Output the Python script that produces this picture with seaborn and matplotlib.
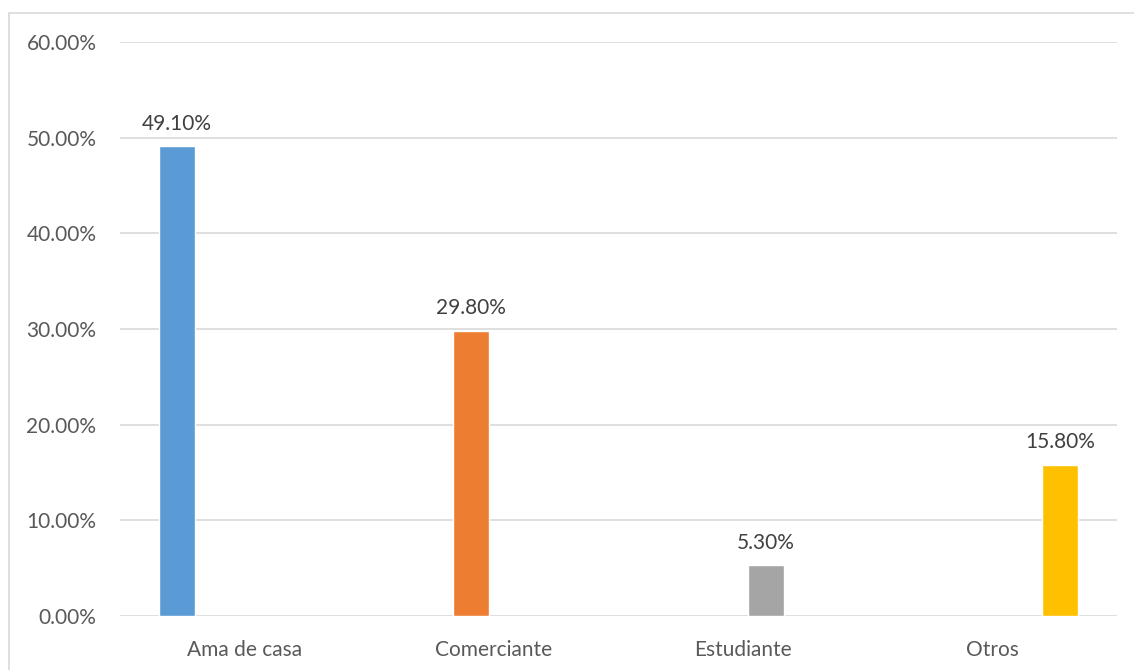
import matplotlib
matplotlib.use("Agg")
import matplotlib.pyplot as plt
from matplotlib.lines import Line2D
from matplotlib.ticker import FuncFormatter, MultipleLocator
import seaborn as sns
import pandas as pd

# Occupation shares (percent)
categories = ["Ama de casa", "Comerciante", "Estudiante", "Otros"]
values = [49.10, 29.80, 5.30, 15.80]
colors = ["#5B9BD5", "#ED7D31", "#A5A5A5", "#FFC000"]

df = pd.DataFrame({"ocupacion": categories, "porcentaje": values})

sns.set_theme(style="white")
plt.rcParams["font.family"] = ["Lato", "DejaVu Sans"]

W, H = 1134, 670
fig = plt.figure(figsize=(W / 100, H / 100), dpi=100)
ax = fig.add_axes([120 / W, (H - 616) / H, (1117 - 120) / W, (616 - 42) / H])

sns.barplot(
    data=df, x="ocupacion", y="porcentaje", hue="ocupacion",
    order=categories, hue_order=categories, palette=colors,
    dodge=True, width=0.726, gap=0.2, saturation=1, legend=False, ax=ax,
)

ax.set_ylim(0, 60)
ax.set_xlim(-0.5, len(categories) - 0.5)
ax.yaxis.set_major_locator(MultipleLocator(10))
ax.yaxis.set_major_formatter(FuncFormatter(lambda v, _: f"{v:.2f}%"))
ax.grid(axis="y", color="#D9D9D9", linewidth=1.2)
ax.set_axisbelow(True)
for s in ax.spines.values():
    s.set_visible(False)
ax.set_xlabel("")
ax.set_ylabel("")
ax.tick_params(axis="y", length=0, pad=17, labelsize=15, labelcolor="#595959")
ax.tick_params(axis="x", length=0, pad=17, labelsize=15, labelcolor="#595959")

for container in ax.containers:
    labels = [f"{b.get_height():.2f}%" if b.get_height() > 0 else "" for b in container]
    ax.bar_label(container, labels=labels, padding=9, fontsize=15, color="#404040")

# chart frame
fig.add_artist(Line2D([8.5 / W, 8.5 / W], [0, (H - 12.5) / H], color="#D9D9D9", lw=1.2))
fig.add_artist(Line2D([8.5 / W, 1], [(H - 12.5) / H, (H - 12.5) / H], color="#D9D9D9", lw=1.2))

fig.savefig("out.png", dpi=100, facecolor="white")
